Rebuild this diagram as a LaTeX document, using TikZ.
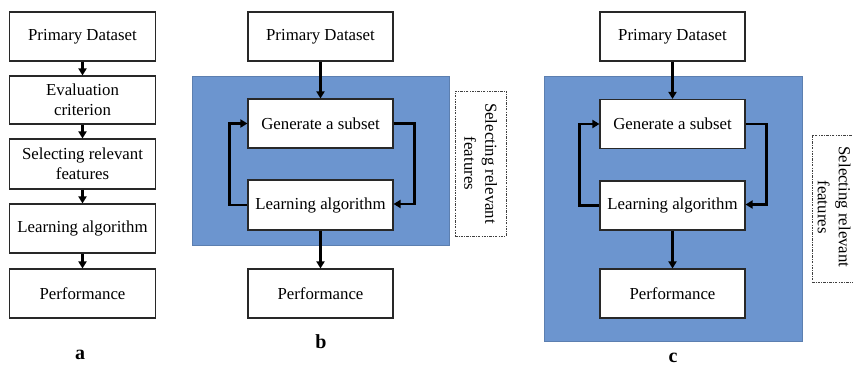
\documentclass[tikz,border=0pt]{standalone}
\usepackage{fontspec}
\setmainfont{Liberation Serif}
\usetikzlibrary{arrows.meta}
\definecolor{panelblue}{RGB}{108,149,207}
\definecolor{boxline}{RGB}{40,40,40}
\begin{document}
\begin{tikzpicture}[x=1pt,y=-1pt,
  box/.style={draw=boxline, line width=1.1pt, fill=white, minimum width=146pt,
    minimum height=49pt, inner sep=0pt, align=center,
    font=\fontsize{16.8}{20}\selectfont},
  flow/.style={-{Triangle[length=7pt,width=8pt]}, line width=2.4pt, black},
  loopflow/.style={-{Triangle[length=7pt,width=8pt]}, line width=2.8pt, black},
  dashbox/.style={draw=black!75, line width=1pt,
    dash pattern=on 2.5pt off 1.2pt on 0.8pt off 1.2pt, fill=white},
  sidetext/.style={rotate=-90, align=center, font=\fontsize{16.8}{21}\selectfont},
  panel/.style={fill=panelblue, draw=panelblue!85!black, line width=0.4pt},
  lab/.style={font=\bfseries\fontsize{20}{22}\selectfont}]
\useasboundingbox (0,0) rectangle (853,367);

% ---------- panel a ----------
\node[box] (aP) at (82.5,36.5) {Primary Dataset};
\node[box, minimum height=48pt] (aE) at (82.5,100) {Evaluation\\criterion};
\node[box, minimum height=50pt] (aS) at (82.5,164) {Selecting relevant\\features};
\node[box] (aL) at (82.5,228.5) {Learning algorithm};
\node[box] (aF) at (82.5,293.5) {Performance};
\draw[flow] (aP) -- (aE);
\draw[flow] (aE) -- (aS);
\draw[flow] (aS) -- (aL);
\draw[flow] (aL) -- (aF);
\node[lab] (la) at (80,355) {a};

% ---------- panel b ----------
\path[panel] (192,76) rectangle (449,245);
\node[box, minimum width=145pt] (bP) at (320.5,36.5) {Primary Dataset};
\node[box, minimum width=145pt] (bG) at (320.5,123.5) {Generate a subset};
\node[box, minimum width=145pt, minimum height=50pt] (bL) at (320.5,205) {Learning algorithm};
\node[box, minimum width=145pt] (bF) at (320.5,293.5) {Performance};
\draw[flow] (bP) -- (bG);
\draw[flow] (bL) -- (bF);
\draw[loopflow] (bL.west) -- ++(-18,0) |- (bG.west);
\draw[loopflow] (bG.east) -- ++(21,0) |- ([yshift=1pt]bL.east);
\node[dashbox, minimum width=51pt, minimum height=145pt] (bD) at (480.5,163.5) {};
\node[sidetext] (bT) at (bD) {Selecting relevant\\features};
\node[lab] (lb) at (321,342) {b};

% ---------- panel c ----------
\path[panel] (544,76) rectangle (802,341);
\node[box, minimum width=145pt] (cP) at (672.5,36.5) {Primary Dataset};
\node[box, minimum width=145pt] (cG) at (672.5,124) {Generate a subset};
\node[box, minimum width=145pt] (cL) at (672.5,205.5) {Learning algorithm};
\node[box, minimum width=145pt] (cF) at (672.5,293.5) {Performance};
\draw[flow] (cP) -- (cG);
\draw[flow] (cL) -- (cF);
\draw[loopflow] (cL.west) -- ++(-20,0) |- (cG.west);
\draw[loopflow] (cG.east) -- ++(21,0) |- ([yshift=1pt]cL.east);
\node[dashbox, minimum width=46pt, minimum height=147pt] (cD) at (835,208.5) {};
\node[sidetext] (cT) at (834,207) {Selecting relevant\\features};
\node[lab] (lc) at (673,358) {c};
\end{tikzpicture}
\end{document}
